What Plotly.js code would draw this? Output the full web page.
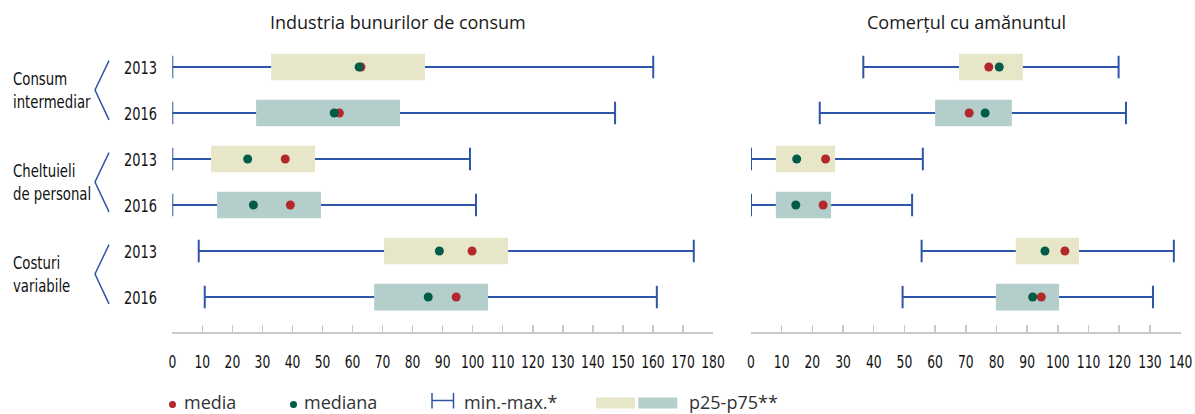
<!DOCTYPE html>
<html><head><meta charset="utf-8">
<script src="https://cdn.plot.ly/plotly-3.0.1.min.js"></script>
<style>html,body{margin:0;padding:0;background:#fff}#chart{width:1195px;height:414px}</style>
</head><body><div id="chart"></div>
<script>
// ---- data ----
const groups = ['Consum<br>intermediar', 'Cheltuieli<br>de personal', 'Costuri<br>variabile'];
const years = ['2013', '2016'];
const panelTitles = ['Industria bunurilor de consum', 'Comerțul cu amănuntul'];
const legendLabels = ['media', 'mediana', 'min.-max.*', 'p25-p75**'];

// rows: CI 2013, CI 2016, CP 2013, CP 2016, CV 2013, CV 2016
const indMin    = [0, 0, 0, 0, 8.8, 10.8];
const indP25    = [32.9, 27.9, 12.9, 14.9, 70.5, 67.2];
const indMedian = [62.2, 53.9, 25.1, 27.0, 88.9, 85.2];
const indMean   = [62.8, 55.6, 37.6, 39.3, 99.8, 94.5];
const indP75    = [84.1, 75.8, 47.5, 49.5, 111.8, 105.1];
const indMax    = [160.1, 147.4, 99.1, 101.1, 173.6, 161.3];

const retMin    = [36.6, 22.4, 0, 0, 55.6, 49.4];
const retP25    = [67.8, 60.0, 8.1, 8.1, 86.3, 79.8];
const retMedian = [80.9, 76.3, 14.9, 14.6, 95.8, 91.8];
const retMean   = [77.5, 71.1, 24.3, 23.5, 102.3, 94.6];
const retP75    = [88.6, 85.0, 27.4, 26.1, 106.9, 100.4];
const retMax    = [119.8, 122.2, 56.0, 52.5, 137.8, 131.0];

// ---- styling ----
const W = 1195, H = 414;
const C_BEIGE = '#e7e6c9', C_TEAL = '#b4cfcb', C_BLUE = '#2f55a8', C_RED = '#b3282a', C_GREEN = '#005c47';
const C_AXIS = '#c9c9c9';
const condensed = '"DejaVu Sans Condensed", "Liberation Sans Narrow", sans-serif';
const regular = '"Open Sans", "Noto Sans", sans-serif';
const px = x => x / W;
const py = y => (H - y) / H;

const rows = [];
groups.forEach((g, gi) => years.forEach((yr, yi) => rows.push(gi * 2 + yi)));
const boxColors = rows.map(r => (r % 2 === 0 ? C_BEIGE : C_TEAL));

function panelTraces(mn, p25, med, mean, p75, mx, xa) {
  const wx = [], wy = [];
  rows.forEach((r, i) => { wx.push(mn[i], p25[i], null, p75[i], mx[i], null); wy.push(r, r, null, r, r, null); });
  const cx = [], cy = [];
  rows.forEach((r, i) => { cx.push(mn[i], mx[i]); cy.push(r, r); });
  return [
    { type: 'scatter', mode: 'lines', x: wx, y: wy, xaxis: xa, yaxis: 'y', line: { color: C_BLUE, width: 2 }, hoverinfo: 'skip', showlegend: false },
    { type: 'scatter', mode: 'markers', x: cx, y: cy, xaxis: xa, yaxis: 'y', marker: { symbol: 'line-ns', size: 16, line: { color: C_BLUE, width: 2 } }, hoverinfo: 'skip', showlegend: false },
    { type: 'bar', orientation: 'h', base: p25, x: p75.map((v, i) => v - p25[i]), y: rows, width: 0.58, xaxis: xa, yaxis: 'y', marker: { color: boxColors, line: { width: 0 } }, hoverinfo: 'skip', showlegend: false },
    { type: 'scatter', mode: 'markers', x: mean, y: rows, xaxis: xa, yaxis: 'y', marker: { color: C_RED, size: 9 }, hoverinfo: 'skip', showlegend: false },
    { type: 'scatter', mode: 'markers', x: med, y: rows, xaxis: xa, yaxis: 'y', marker: { color: C_GREEN, size: 9 }, hoverinfo: 'skip', showlegend: false }
  ];
}

const data = [].concat(
  panelTraces(indMin, indP25, indMedian, indMean, indP75, indMax, 'x'),
  panelTraces(retMin, retP25, retMedian, retMean, retP75, retMax, 'x2')
);

const axisCommon = {
  showgrid: false, zeroline: false, showline: true, linecolor: C_AXIS, linewidth: 2,
  ticks: 'inside', ticklen: 7, tickwidth: 1.5, tickcolor: C_AXIS, dtick: 10, tick0: 0, tickangle: 0,
  tickfont: { family: condensed, size: 18, color: '#111' }, ticklabelstandoff: 12, ticklabeloverflow: 'allow',
  anchor: 'y', fixedrange: true
};

const annotations = [];
const shapes = [];
// panel titles
annotations.push({ xref: 'paper', yref: 'paper', x: px(397.5), y: py(22), text: panelTitles[0], showarrow: false, xanchor: 'center', yanchor: 'middle', font: { family: regular, size: 18, color: '#1a1a1a' } });
annotations.push({ xref: 'paper', yref: 'paper', x: px(966), y: py(22), text: panelTitles[1], showarrow: false, xanchor: 'center', yanchor: 'middle', font: { family: regular, size: 18, color: '#1a1a1a' } });
// year labels and group labels
rows.forEach((r, i) => {
  annotations.push({ xref: 'paper', yref: 'y', x: px(140.5), y: r, text: years[i % 2], showarrow: false, xanchor: 'center', yanchor: 'middle', font: { family: condensed, size: 18, color: '#111' } });
});
groups.forEach((g, gi) => {
  const y0 = gi * 2, y1 = gi * 2 + 1, ym = (y0 + y1) / 2;
  annotations.push({ xref: 'paper', yref: 'y', x: px(11), y: ym, text: g, showarrow: false, xanchor: 'left', yanchor: 'middle', align: 'left', font: { family: condensed, size: 18, color: '#111' } });
  shapes.push({ type: 'path', xref: 'paper', yref: 'y', path: `M ${px(109)} ${y0 - 0.14} L ${px(95)} ${ym} L ${px(109)} ${y1 + 0.15}`, line: { color: C_BLUE, width: 1.5 } });
});
// legend (kept fully inside the canvas)
const ly = py(401.6);
const legFont = { family: regular, size: 18, color: '#333' };
shapes.push({ type: 'circle', xref: 'paper', yref: 'paper', x0: px(169), x1: px(176), y0: py(408), y1: py(401), fillcolor: C_RED, line: { width: 0 } });
annotations.push({ xref: 'paper', yref: 'paper', x: px(181.5), y: ly, text: legendLabels[0], showarrow: false, xanchor: 'left', yanchor: 'middle', font: legFont });
shapes.push({ type: 'circle', xref: 'paper', yref: 'paper', x0: px(290), x1: px(297), y0: py(408), y1: py(401), fillcolor: C_GREEN, line: { width: 0 } });
annotations.push({ xref: 'paper', yref: 'paper', x: px(301.5), y: ly, text: legendLabels[1], showarrow: false, xanchor: 'left', yanchor: 'middle', font: legFont });
shapes.push({ type: 'line', xref: 'paper', yref: 'paper', x0: px(432), x1: px(453.5), y0: py(400.5), y1: py(400.5), line: { color: C_BLUE, width: 1.5 } });
shapes.push({ type: 'line', xref: 'paper', yref: 'paper', x0: px(432), x1: px(432), y0: py(393), y1: py(408.5), line: { color: C_BLUE, width: 1.5 } });
shapes.push({ type: 'line', xref: 'paper', yref: 'paper', x0: px(453.5), x1: px(453.5), y0: py(393), y1: py(408.5), line: { color: C_BLUE, width: 1.5 } });
annotations.push({ xref: 'paper', yref: 'paper', x: px(461.5), y: ly, text: legendLabels[2], showarrow: false, xanchor: 'left', yanchor: 'middle', font: legFont });
shapes.push({ type: 'rect', xref: 'paper', yref: 'paper', x0: px(596), x1: px(635), y0: py(408.5), y1: py(397.5), fillcolor: C_BEIGE, line: { width: 0 } });
shapes.push({ type: 'rect', xref: 'paper', yref: 'paper', x0: px(638.3), x1: px(677.3), y0: py(408.5), y1: py(397.5), fillcolor: C_TEAL, line: { width: 0 } });
annotations.push({ xref: 'paper', yref: 'paper', x: px(686.5), y: ly, text: legendLabels[3], showarrow: false, xanchor: 'left', yanchor: 'middle', font: legFont });

const layout = {
  width: W, height: H, margin: { l: 0, r: 0, t: 0, b: 0 }, paper_bgcolor: '#fff', plot_bgcolor: 'rgba(0,0,0,0)',
  showlegend: false, barmode: 'overlay', hovermode: false,
  xaxis: Object.assign({}, axisCommon, { domain: [px(172.3), px(713)], range: [0, 180] }),
  xaxis2: Object.assign({}, axisCommon, { domain: [px(751), px(1180.6)], range: [0, 140] }),
  yaxis: { domain: [py(332), py(44)], range: [5.76, -0.5], visible: false, fixedrange: true },
  annotations: annotations, shapes: shapes
};

// narrow the condensed text horizontally (keeps it as real SVG text)
function squeeze(el, f) {
  const w = el.getComputedTextLength();
  if (w > 0) { el.setAttribute('textLength', (w * f).toFixed(2)); el.setAttribute('lengthAdjust', 'spacingAndGlyphs'); }
}

Plotly.newPlot('chart', data, layout, { staticPlot: true, displayModeBar: false }).then(gd => {
  gd.querySelectorAll('.xtick text, .x2tick text').forEach(t => squeeze(t, 0.76));
  gd.querySelectorAll('.annotation-text').forEach(t => {
    if (!(t.style.fontFamily || '').includes('Condensed')) return;
    const lines = t.querySelectorAll('tspan.line');
    if (lines.length) lines.forEach(l => squeeze(l, 0.82)); else squeeze(t, 0.8);
  });
});
</script></body></html>
